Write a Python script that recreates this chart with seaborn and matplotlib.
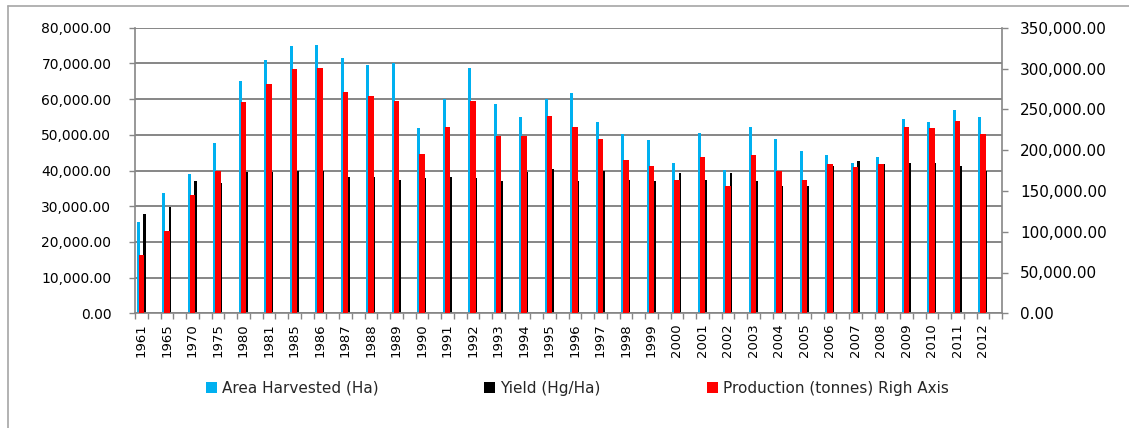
import matplotlib
matplotlib.use("Agg")
import matplotlib.pyplot as plt
from matplotlib.lines import Line2D
from matplotlib.patches import Patch
from matplotlib.ticker import FuncFormatter, FixedLocator
import numpy as np
import pandas as pd
import seaborn as sns

years = [1961, 1965, 1970, 1975, 1980, 1981, 1985, 1986, 1987, 1988, 1989, 1990,
         1991, 1992, 1993, 1994, 1995, 1996, 1997, 1998, 1999, 2000, 2001, 2002,
         2003, 2004, 2005, 2006, 2007, 2008, 2009, 2010, 2011, 2012]

area_harvested = [25580, 33700, 39120, 47620, 65080, 70960, 74790, 75260, 71430, 69650,
                  70030, 51910, 59940, 68810, 58640, 54900, 59940, 61620, 53600, 50230,
                  48550, 42110, 50610, 40060, 52290, 48930, 45470, 44260, 42110, 43790,
                  54440, 53600, 56960, 54900]

yield_hg_ha = [27730, 29880, 37070, 36600, 39590, 39680, 39960, 39960, 38280, 38280,
               37440, 37820, 38280, 37820, 37070, 39590, 40430, 37070, 39960, 37350,
               37070, 39220, 37440, 39220, 37070, 35760, 35760, 41270, 42580, 41740,
               42110, 42110, 41270, 39960]

production = [71060, 100880, 144980, 174800, 258520, 280570, 299360, 301000, 271180, 265870,
              260150, 195220, 228710, 260150, 217680, 217680, 241770, 228710, 214000, 187870,
              180920, 163770, 191950, 156420, 193580, 174800, 163770, 182550, 178880, 182550,
              228710, 227080, 236060, 219720]

series_names = ["Area Harvested (Ha)", "Yield (Hg/Ha)", "Production (tonnes) Righ Axis"]
colors = ["#00B0F0", "#000000", "#FF0000"]
grid_gray = "#868686"

year_labels = [str(y) for y in years]

left_df = pd.DataFrame({
    "Year": year_labels * 2,
    "Value": area_harvested + yield_hg_ha,
    "Series": [series_names[0]] * len(years) + [series_names[1]] * len(years),
})
right_df = pd.DataFrame({"Year": year_labels, "Value": production})

sns.set_theme(style="white")
plt.rcParams["font.family"] = ["DejaVu Sans"]

W, H = 1129, 428
fig = plt.figure(figsize=(W / 100, H / 100), dpi=100)
ax = fig.add_axes([135 / W, 1 - 313.3 / H, 867 / W, (313.3 - 27.7) / H])

sns.barplot(data=left_df, x="Year", y="Value", hue="Series", order=year_labels,
            hue_order=series_names[:2], palette=colors[:2], width=0.5, gap=0.55,
            saturation=1, errorbar=None, linewidth=0, legend=False, ax=ax)

ax2 = ax.twinx()
sns.barplot(data=right_df, x="Year", y="Value", order=year_labels, color=colors[2],
            width=0.225, saturation=1, errorbar=None, linewidth=0, ax=ax2)

n = len(years)
ax.set_xlim(-0.25, n - 0.25)
ax2.set_xlim(-0.25, n - 0.25)
ax.set_ylim(0, 80000)
ax2.set_ylim(0, 350000)

fmt = FuncFormatter(lambda v, p: f"{v:,.2f}")
ax.set_yticks(np.arange(0, 80001, 10000))
ax.yaxis.set_major_formatter(fmt)
ax2.set_yticks(np.arange(0, 350001, 50000))
ax2.yaxis.set_major_formatter(fmt)

ax.set_xticks(range(n))
ax.set_xticklabels(year_labels, rotation=90, fontsize=9.5)
ax.xaxis.set_minor_locator(FixedLocator(np.arange(-0.25, n, 0.5)))
ax.tick_params(axis="x", which="major", length=0, pad=7, labelcolor="black")
ax.tick_params(axis="x", which="minor", length=4, width=1, color=grid_gray, direction="out", bottom=True)
ax.tick_params(axis="y", which="major", length=4, width=1, color=grid_gray, direction="out",
               left=True, labelsize=10, labelcolor="black", pad=13)
ax2.tick_params(axis="y", which="major", length=4, width=1, color=grid_gray, direction="out",
                right=True, labelsize=11, labelcolor="black", pad=9)
ax2.tick_params(axis="x", which="both", bottom=False, labelbottom=False)

ax.set_xlabel("")
ax.set_ylabel("")
ax2.set_xlabel("")
ax2.set_ylabel("")

ax.set_axisbelow(True)
ax.yaxis.grid(True, color=grid_gray, linewidth=1.4)
ax.xaxis.grid(False)
ax2.grid(False)

for a in (ax, ax2):
    for side in ("left", "right", "bottom", "top"):
        a.spines[side].set_visible(False)
ax.spines["left"].set_visible(True)
ax.spines["bottom"].set_visible(True)
ax2.spines["right"].set_visible(True)
for sp in (ax.spines["left"], ax.spines["bottom"], ax2.spines["right"]):
    sp.set_color(grid_gray)
    sp.set_linewidth(1.2)

# legend entries placed individually along the bottom
legend_x = [206, 484, 707]
for name, col, x0 in zip(series_names, colors, legend_x):
    fig.legend(handles=[Patch(facecolor=col, edgecolor="none", label=name)],
               loc="center left", bbox_to_anchor=(x0 / W, 1 - 388 / H),
               bbox_transform=fig.transFigure, frameon=False, fontsize=11,
               handlelength=0.75, handleheight=0.75, handletextpad=0.3,
               borderpad=0, borderaxespad=0)

# chart frame lines (top and left)
frame_col = "#a6a6a6"
fig.add_artist(Line2D([8 / W, 1], [1 - 5.5 / H, 1 - 5.5 / H], transform=fig.transFigure,
                      color=frame_col, linewidth=1.2))
fig.add_artist(Line2D([8 / W, 8 / W], [0, 1 - 5.5 / H], transform=fig.transFigure,
                      color=frame_col, linewidth=1.2))

fig.savefig("out.png", dpi=100)
